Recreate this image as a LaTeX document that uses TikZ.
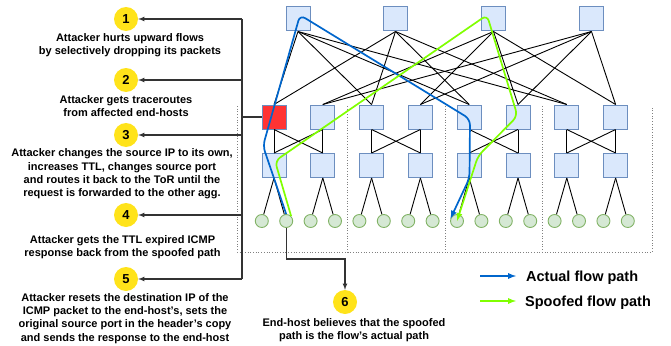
\documentclass[tikz,border=0pt]{standalone}
\usepackage{fontspec}
\setmainfont{Liberation Sans}
\usetikzlibrary{calc}

\definecolor{swfill}{HTML}{DAE8FC}
\definecolor{swline}{HTML}{6C8EBF}
\definecolor{hostfill}{HTML}{D5E8D4}
\definecolor{hostline}{HTML}{82B366}
\definecolor{atkred}{HTML}{FF3333}
\definecolor{stepyellow}{HTML}{FFE31A}
\definecolor{actualblue}{HTML}{0066CC}
\definecolor{spoofgreen}{HTML}{80FF00}
\definecolor{busgray}{HTML}{333333}

\begin{document}
\begin{tikzpicture}[x=1pt, y=-1pt]
\tikzset{ >=latex,
  sw/.style={draw=swline, fill=swfill, line width=1pt, minimum size=24pt, inner sep=0pt},
  host/.style={circle, draw=hostline, fill=hostfill, line width=0.9pt, minimum size=13pt, inner sep=0pt},
  badge/.style={circle, fill=stepyellow, minimum size=24pt, inner sep=0pt, font=\bfseries\fontsize{13}{15}\selectfont},
  note/.style={align=center, inner sep=0pt, font=\bfseries\fontsize{11}{13.3}\selectfont},
  legtext/.style={anchor=west, inner sep=0pt, font=\bfseries\fontsize{14.5}{16}\selectfont},
  link/.style={black, line width=0.9pt},
  podsep/.style={gray, dotted, line width=0.7pt},
  bus/.style={busgray, line width=1.1pt},
  flow/.style={->, line width=1.7pt, rounded corners=6pt},
}
\useasboundingbox (0,0) rectangle (671,345);

%\draw [lightgray, dashed](0,0) grid[step=20] (671,345);

% pods
\draw [podsep] (237,106) -- (237,252) -- (652,252) -- (652,106);
\foreach \x in {347,445,542} \draw [podsep] (\x,106) -- (\x,252);

% switches and hosts
\foreach \i/\x in {1/298, 2/395.5, 3/493.5, 4/591.5}
  \node [sw] (core\i) at (\x,19) {};

\foreach \i in {1,...,8} {
  \pgfmathsetmacro\x{274+48.8*(\i-1)}
  \pgfmathtruncatemacro\ha{2*\i-1}
  \pgfmathtruncatemacro\hb{2*\i}
  \node [sw] (agg\i) at (\x,117) {};
  \node [sw] (tor\i) at (\x,165.5) {};
  \node [host] (h\ha) at (\x-12.2,221) {};
  \node [host] (h\hb) at (\x+12.2,221) {};
  \draw [link] (tor\i.south) -- (h\ha);
  \draw [link] (tor\i.south) -- (h\hb);
}
\node [sw, fill=atkred] at (agg1) {};

\foreach \c in {1,2} \foreach \a in {1,3,5,7} \draw [link] (core\c.south) -- (agg\a.north);
\foreach \c in {3,4} \foreach \a in {2,4,6,8} \draw [link] (core\c.south) -- (agg\a.north);

\foreach \a/\b in {1/2, 3/4, 5/6, 7/8} {
  \draw [link] (agg\a.south) -- (tor\a.north);
  \draw [link] (agg\a.south) -- (tor\b.north);
  \draw [link] (agg\b.south) -- (tor\a.north);
  \draw [link] (agg\b.south) -- (tor\b.north);
}

% flows
\draw [flow, actualblue] (h2.north) -- (263,146) -- (300,15) -- (470,119) -- (469.5,178) -- (h9.160);
\draw [flow, spoofgreen] (h2.north east) -- (275,161) -- (487,15) -- (517.5,116) -- (478,156) -- (h9.center);

% steps
\node [badge] (c1) at (126,19) {1};
\node [badge] (c2) at (126,80) {2};
\node [badge] (c3) at (126,135) {3};
\node [badge] (c4) at (126,215) {4};
\node [badge] (c5) at (126,279) {5};
\node [badge] (c6) at (345,302) {6};

\node [note] (n1) at (130,45.5) {Attacker hurts upward flows\\by selectively dropping its packets};
\node [note] (n2) at (126,106) {Attacker gets traceroutes\\from affected end-hosts};
\node [note] (n3) at (122,174) {Attacker changes the source IP to its own,\\increases TTL, changes source port\\and routes it back to the ToR until the\\request is forwarded to the other agg.};
\node [note] (n4) at (122.5,247.5) {Attacker gets the TTL expired ICMP\\response back from the spoofed path};
\node [note] (n5) at (125,318.5) {Attacker resets the destination IP of the\\ICMP packet to the end-host's, sets the\\original source port in the header's copy\\and sends the response to the end-host};
\node [note] (n6) at (354,330.5) {End-host believes that the spoofed\\path is the flow's actual path};

\coordinate (busT) at (242,19);
\coordinate (busB) at (242,279);
\coordinate (turn6) at (345,259);
\draw [bus] (busT) -- (busB);
\draw [bus] (agg1.west) -- (agg1.west -| busT);
\foreach \k in {1,...,5} \draw [bus, ->] (busT |- c\k) -- (c\k);
\draw [bus, ->] (h2.south) |- (turn6) -- (c6.north);

% legend
\node [legtext] (legA) at (526,277.5) {Actual flow path};
\node [legtext] (legS) at (525,302.5) {Spoofed flow path};
\coordinate (legA0) at (480,276);
\coordinate (legS0) at (480,301);
\draw [->, actualblue, line width=1.7pt] (legA0) -- ([xshift=-10pt]legA.west |- legA0);
\draw [->, spoofgreen, line width=1.7pt] (legS0) -- ([xshift=-9pt]legS.west |- legS0);
\end{tikzpicture}
\end{document}
